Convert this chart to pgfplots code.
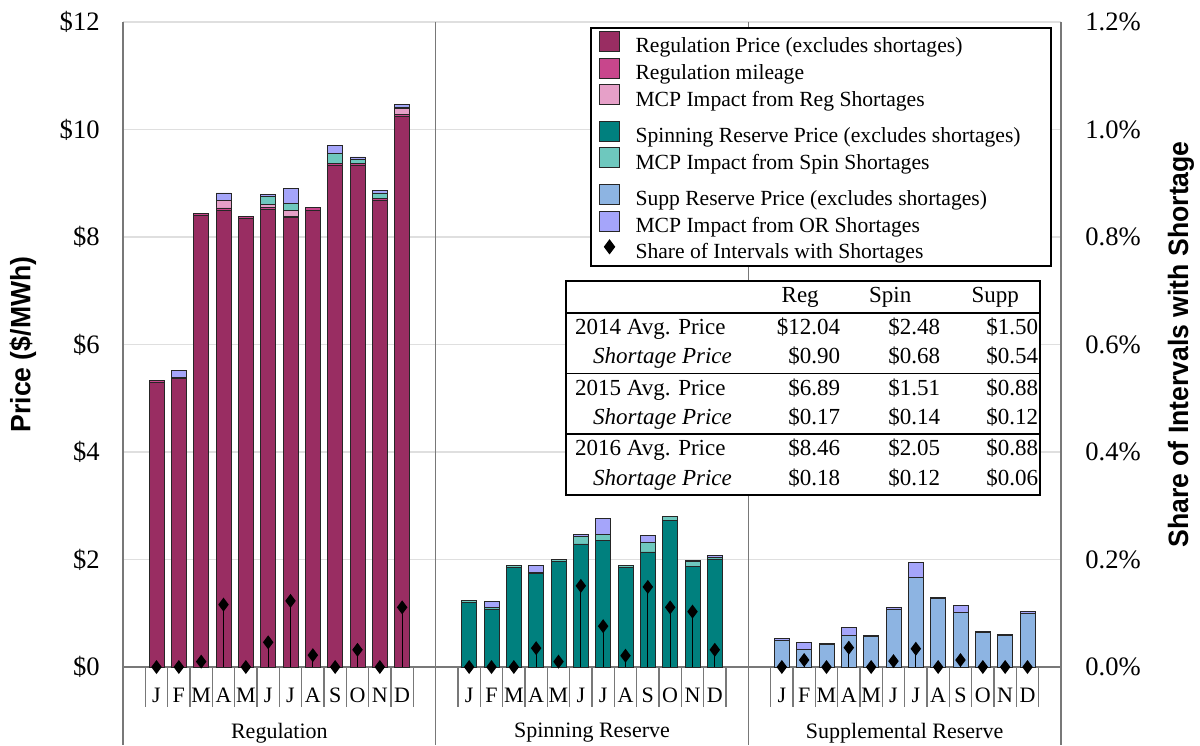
\documentclass[border=0pt]{standalone}
\usepackage{pgfplots}
\pgfplotsset{compat=1.18}
\usepackage{pgfplotstable}
\usepackage{array}
\usepackage{fontspec}
\setmainfont{Liberation Serif}
\newfontfamily\labelfont{Liberation Sans}[FakeStretch=0.95]

\definecolor{regprice}{RGB}{153,45,98}
\definecolor{regmile}{RGB}{200,70,140}
\definecolor{regshort}{RGB}{230,160,200}
\definecolor{spinprice}{RGB}{0,128,126}
\definecolor{spinshort}{RGB}{110,200,190}
\definecolor{suppprice}{RGB}{141,180,226}
\definecolor{orshort}{RGB}{165,165,250}
\definecolor{frame}{RGB}{120,120,120}

\pgfplotsset{
  sw/.style={fill=#1, draw=black!85, line width=0.4pt,
    legend image code/.code={
      \draw[fill=#1, draw=black!85, line width=0.5pt] (0pt,-1.9pt) rectangle (10pt,8.1pt);
      \path[draw=none, fill=none] (0pt,0pt) rectangle (18pt,1pt);}},
  diamleg/.style={legend image code/.code={
      \draw[#1] plot coordinates {(5pt,3.3pt)};
      \path[draw=none, fill=none] (0pt,0pt) rectangle (18pt,1pt);}},
}

% monthly values, $/MWh ; x = slot position (3 panels of 14 slots)
\pgfplotstableread{
x  regp  mile regs spinp spins suppp ors
1  5.30  0.03 0    0    0    0    0
2  5.36  0.03 0    0    0    0    0.12
3  8.40  0.04 0    0    0    0    0
4  8.50  0.04 0.14 0    0    0    0.14
5  8.35  0.04 0    0    0    0    0
6  8.52  0.03 0.06 0    0.15 0    0.03
7  8.36  0.03 0.11 0    0.13 0    0.28
8  8.50  0.05 0    0    0    0    0
9  9.34  0.03 0    0    0.19 0    0.15
10 9.34  0.03 0    0    0.07 0    0.05
11 8.69  0.03 0    0    0.10 0    0.04
12 10.25 0.03 0.11 0    0.03 0    0.04
15 0 0 0 1.20 0.03 0 0
16 0 0 0 1.08 0.02 0 0.12
17 0 0 0 1.86 0.03 0 0
18 0 0 0 1.74 0.02 0 0.13
19 0 0 0 1.96 0.04 0 0
20 0 0 0 2.29 0.14 0 0.03
21 0 0 0 2.36 0.10 0 0.30
22 0 0 0 1.85 0.04 0 0
23 0 0 0 2.14 0.18 0 0.12
24 0 0 0 2.72 0.08 0 0
25 0 0 0 1.87 0.09 0 0.03
26 0 0 0 2.01 0.03 0 0.03
29 0 0 0 0 0 0.50 0.03
30 0 0 0 0 0 0.32 0.14
31 0 0 0 0 0 0.42 0.02
32 0 0 0 0 0 0.59 0.14
33 0 0 0 0 0 0.57 0.02
34 0 0 0 0 0 1.07 0.03
35 0 0 0 0 0 1.67 0.27
36 0 0 0 0 0 1.27 0.03
37 0 0 0 0 0 1.01 0.14
38 0 0 0 0 0 0.64 0.02
39 0 0 0 0 0 0.59 0.02
40 0 0 0 0 0 1.00 0.03
}\bars

% share of intervals with shortages, percent
\pgfplotstableread{
x share
1 0
2 0
3 0.010
4 0.116
5 0
6 0.046
7 0.123
8 0.022
9 0
10 0.032
11 0
12 0.111
15 0
16 0
17 0
18 0.035
19 0.010
20 0.151
21 0.076
22 0.021
23 0.149
24 0.111
25 0.103
26 0.032
29 0
30 0.013
31 0
32 0.036
33 0
34 0.011
35 0.034
36 0
37 0.013
38 0
39 0
40 0
}\shares

\begin{document}
\begin{tikzpicture}
\useasboundingbox (0,0) rectangle (600pt,372.5pt);

\begin{axis}[
    at={(61.5pt,39pt)}, anchor=south west,
    scale only axis, width=469pt, height=322.5pt,
    xmin=-0.5, xmax=41.5, ymin=0, ymax=12,
    ybar stacked, bar width=0.67,
    axis line style={draw=none},
    tick style={draw=none},
    ymajorgrids, major grid style={gray!25, line width=0.6pt},
    ytick={0,2,...,12},
    yticklabels={\$0,\$2,\$4,\$6,\$8,\$10,\$12},
    yticklabel style={font=\fontsize{13.3}{15}\selectfont, anchor=east, inner sep=0pt, xshift=-11.5pt},
    xtick={1,2,3,4,5,6,7,8,9,10,11,12,15,16,17,18,19,20,21,22,23,24,25,26,29,30,31,32,33,34,35,36,37,38,39,40},
    xticklabels={J,F,M,A,M,J,J,A,S,O,N,D,J,F,M,A,M,J,J,A,S,O,N,D,J,F,M,A,M,J,J,A,S,O,N,D},
    xticklabel style={font=\fontsize{11}{12}\selectfont, anchor=center, yshift=-14pt},
    ylabel={Price (\$/MWh)},
    ylabel style={font=\labelfont\bfseries\fontsize{14}{16}\selectfont, at={(axis description cs:-0.1066,0.5)}, anchor=center},
    clip=false,
    legend cell align=left,
    legend style={at={(0.4979,0.9922)}, anchor=north west,
      font=\fontsize{10.8}{13}\selectfont, draw=black, line width=1pt, fill=white,
      inner xsep=4pt, inner ysep=1.5pt, row sep=0pt,
      nodes={inner sep=0pt, text height=7.5pt, text depth=2.4pt}},
]
\addplot[sw=regprice] table[x=x,y=regp] {\bars};
\addlegendentry{Regulation Price (excludes shortages)}
\addplot[sw=regmile] table[x=x,y=mile] {\bars};
\addlegendentry{Regulation mileage}
\addplot[sw=regshort] table[x=x,y=regs] {\bars};
\addlegendentry{MCP Impact from Reg Shortages}
\addlegendimage{empty legend}
\addlegendentry[text height=0pt, text depth=5pt]{}
\addplot[sw=spinprice] table[x=x,y=spinp] {\bars};
\addlegendentry{Spinning Reserve Price (excludes shortages)\rule{11pt}{0pt}}
\addplot[sw=spinshort] table[x=x,y=spins] {\bars};
\addlegendentry{MCP Impact from Spin Shortages}
\addlegendimage{empty legend}
\addlegendentry[text height=0pt, text depth=5pt]{}
\addplot[sw=suppprice] table[x=x,y=suppp] {\bars};
\addlegendentry{Supp Reserve Price (excludes shortages)}
\addplot[sw=orshort] table[x=x,y=ors] {\bars};
\addlegendentry{MCP Impact from OR Shortages}
\addlegendimage{empty legend}
\addlegendentry[text height=0pt, text depth=1.8pt]{}
\addlegendimage{only marks, mark=diamond*, mark size=3pt, black, diamleg}
\addlegendentry{Share of Intervals with Shortages}

% frame, panel separators and month dividers
\draw[frame, line width=0.8pt] (axis cs:-0.5,0) -- (axis cs:41.5,0);
\pgfplotsinvokeforeach{-0.5,13.5,27.5,41.5}{
  \draw[frame, line width=0.8pt] (axis cs:#1,12) -- (axis cs:#1,-1.46);
}
\pgfplotsinvokeforeach{0.5,1.5,2.5,3.5,4.5,5.5,6.5,7.5,8.5,9.5,10.5,11.5,12.5,
  14.5,15.5,16.5,17.5,18.5,19.5,20.5,21.5,22.5,23.5,24.5,25.5,26.5,
  28.5,29.5,30.5,31.5,32.5,33.5,34.5,35.5,36.5,37.5,38.5,39.5,40.5}{
  \draw[frame, line width=0.6pt] (axis cs:#1,0) -- (axis cs:#1,-0.744);
}
\node[font=\fontsize{11}{13}\selectfont] at (axis cs:6.5,-1.228) {Regulation};
\node[font=\fontsize{11}{13}\selectfont] at (axis cs:20.5,-1.228) {Spinning Reserve};
\node[font=\fontsize{11}{13}\selectfont] at (axis cs:34.5,-1.228) {Supplemental Reserve};
\end{axis}

\begin{axis}[
    at={(61.5pt,39pt)}, anchor=south west,
    scale only axis, width=469pt, height=322.5pt,
    xmin=-0.5, xmax=41.5, ymin=0, ymax=1.2,
    axis x line=none, axis y line*=right,
    axis line style={draw=none},
    tick style={draw=none},
    ytick={0,0.2,...,1.2},
    yticklabels={0.0\%,0.2\%,0.4\%,0.6\%,0.8\%,1.0\%,1.2\%},
    yticklabel style={font=\fontsize{13.3}{15}\selectfont, anchor=west, inner sep=0pt, xshift=12pt},
    ylabel={Share of Intervals with Shortage},
    ylabel style={font=\labelfont\bfseries\fontsize{14}{16}\selectfont, at={(axis description cs:1.128,0.5)}, anchor=center},
    clip=false,
]
\addplot[ycomb, black, line width=0.6pt, mark=diamond*, mark size=3pt] table[x=x,y=share] {\shares};
\end{axis}

\node[anchor=north west, inner sep=0pt, fill=white] at (282.5pt,232.5pt) {%
  \fontsize{11.5}{13.8}\selectfont\setlength{\arrayrulewidth}{0.9pt}%
  \renewcommand{\arraystretch}{1.07}%
  \begin{tabular}{|@{\hspace{4pt}}p{92.5pt}@{}>{\raggedleft\arraybackslash}p{40pt}@{}>{\raggedleft\arraybackslash}p{50pt}@{}>{\raggedleft\arraybackslash}p{49pt}@{\hspace{0.5pt}}|}
  \hline
   & \multicolumn{1}{c}{Reg} & \multicolumn{1}{c}{Spin} & \multicolumn{1}{c@{\hspace{0.5pt}}|}{Supp}\\ \hline
  2014 Avg. Price & \$12.04 & \$2.48 & \$1.50\\
  \hspace{9pt}\textit{Shortage Price} & \$0.90 & \$0.68 & \$0.54\\ \hline
  2015 Avg. Price & \$6.89 & \$1.51 & \$0.88\\
  \hspace{9pt}\textit{Shortage Price} & \$0.17 & \$0.14 & \$0.12\\ \hline
  2016 Avg. Price & \$8.46 & \$2.05 & \$0.88\\
  \hspace{9pt}\textit{Shortage Price} & \$0.18 & \$0.12 & \$0.06\\ \hline
  \end{tabular}};
\end{tikzpicture}
\end{document}
